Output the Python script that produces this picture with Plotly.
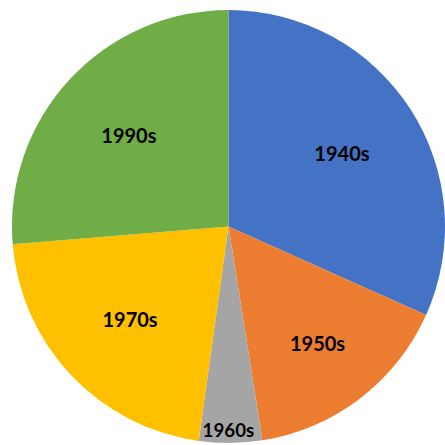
import plotly.graph_objects as go

labels = ["1940s", "1950s", "1960s", "1970s", "1990s"]
values = [31.7, 15.8, 4.7, 21.5, 26.3]
colors = ["#4472C4", "#ED7D31", "#A5A5A5", "#FFC000", "#70AD47"]

common = dict(labels=labels, values=values, sort=False, direction="clockwise",
              rotation=0, showlegend=False)

fig = go.Figure()
fig.add_trace(go.Pie(
    marker=dict(colors=colors, line=dict(width=0)),
    textinfo="none",
    hoverinfo="label+value",
    **common,
))
fig.add_trace(go.Pie(
    marker=dict(colors=["rgba(0,0,0,0)"] * len(labels), line=dict(width=0)),
    hole=0.25,
    textinfo="label",
    textposition="inside",
    insidetextorientation="horizontal",
    textfont=dict(family="Lato", size=20, color="black", weight="bold"),
    hoverinfo="skip",
    **common,
))
fig.update_layout(
    width=445, height=445,
    margin=dict(l=12, r=0, t=10, b=2),
    paper_bgcolor="white",
    plot_bgcolor="white",
)
fig.write_html(
    "out.html",
    config={"displayModeBar": False},
    post_script="document.body.style.margin='0';document.body.style.overflow='hidden';",
)
